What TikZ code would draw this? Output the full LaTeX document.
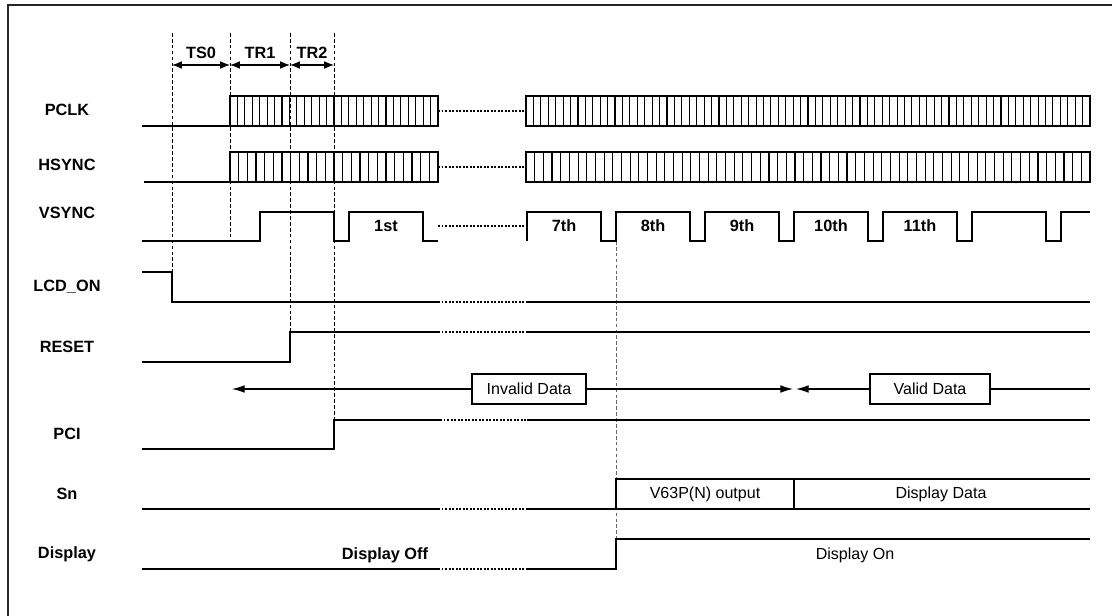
\documentclass[tikz,border=0pt]{standalone}
\usepackage{fontspec}
\setmainfont{Liberation Sans}
\usetikzlibrary{arrows.meta}

\tikzset{
  sig/.style={line width=1pt},
  brk/.style={line width=1pt, dash pattern=on 1.4pt off 1.1pt},
  guide/.style={line width=0.6pt, dash pattern=on 2.6pt off 1.6pt},
  stripe/.style={line width=0.8pt},
  lbl/.style={font=\fontsize{11.6}{13}\selectfont\bfseries},
  txt/.style={font=\fontsize{11.4}{13}\selectfont},
  databox/.style={draw, fill=white, line width=0.8pt, minimum height=0.75cm,
                  inner sep=0pt, font=\fontsize{11.4}{13}\selectfont},
  span/.style={line width=0.8pt, {Latex[length=7pt,width=5.5pt]}-{Latex[length=7pt,width=5.5pt]}},
  tip/.style={line width=0.8pt, -{Latex[length=9pt,width=5.5pt]}},
}

\begin{document}
\begin{tikzpicture}[x=0.025cm, y=-0.025cm]
  \useasboundingbox (0,0) rectangle (1112,616);
  \draw[line width=1.4pt, black!85] (8,616) -- (8,5) -- (1112,5);

  % signal names
  \node[lbl] (lpclk)  at (67,110) {PCLK};
  \node[lbl] (lhsync) at (67,165) {HSYNC};
  \node[lbl] (lvsync) at (67,213) {VSYNC};
  \node[lbl] (llcdon) at (67,287) {LCD\_ON};
  \node[lbl] (lreset) at (67,347) {RESET};
  \node[lbl] (lpci)   at (67,434) {PCI};
  \node[lbl] (lsn)    at (67,494) {Sn};
  \node[lbl] (ldisp)  at (67,554) {Display};

  % timing marks
  \coordinate (t0) at (172,65);
  \coordinate (t1) at (230,65);
  \coordinate (t2) at (290,65);
  \coordinate (t3) at (334,65);
  \draw[span] (t0) -- node[lbl, above=1pt] (ts0) {TS0} (t1);
  \draw[span] (t1) -- node[lbl, above=1pt] (tr1) {TR1} (t2);
  \draw[span] (t2) -- node[lbl, above=1pt] (tr2) {TR2} (t3);
  \draw[guide] (172,33) -- (172,272);
  \draw[guide] (230,33) -- (230,241);
  \draw[guide] (290,33) -- (290,332);
  \draw[guide] (334,33) -- (334,420);
  \draw[guide, black!60] (616,241) -- (616,539);

  % PCLK
  \draw[sig] (142,126) -- (230,126);
  \draw[sig] (230,96) rectangle (438,126);
  \foreach \i in {1,...,27} \draw[stripe] ({230+\i*7.4286},96) -- ++(0,30);
  \draw[brk] (438,111) -- (526,111);
  \draw[sig] (526,96) rectangle (1090,126);
  \foreach \i in {1,...,75} \draw[stripe] ({526+\i*7.4211},96) -- ++(0,30);

  % HSYNC
  \draw[sig] (144,182) -- (230,182);
  \draw[sig] (230,152) rectangle (438,182);
  \foreach \i in {1,...,23} \draw[stripe] ({230+\i*8.6667},152) -- ++(0,30);
  \draw[brk] (438,167) -- (526,167);
  \draw[sig] (526,152) rectangle (1090,182);
  \foreach \i in {1,...,64} \draw[stripe] ({526+\i*8.6769},152) -- ++(0,30);

  % VSYNC
  \draw[sig] (142,241) -- (260,241) -- (260,212) -- (334,212) -- (334,241)
             -- (349,241) -- (349,212) -- (423,212) -- (423,241) -- (438,241);
  \draw[brk] (438,226) -- (526,226);
  \draw[sig] (527,241) \foreach \k in {0,...,5}{
               -- ({527+89*\k},212) -- ({601+89*\k},212)
               -- ({601+89*\k},241) -- ({616+89*\k},241)}
             -- (1061,212) -- (1090,212);
  \node[lbl] (v1)  at (386,226) {1st};
  \node[lbl] (v7)  at (564,226) {7th};
  \node[lbl] (v8)  at (653,226) {8th};
  \node[lbl] (v9)  at (742,226) {9th};
  \node[lbl] (v10) at (831,226) {10th};
  \node[lbl] (v11) at (920,226) {11th};

  % LCD_ON
  \draw[sig] (142,272) -- (172,272) -- (172,302) -- (438,302);
  \draw[brk] (438,302) -- (527,302);
  \draw[sig] (527,302) -- (1090,302);

  % RESET
  \draw[sig] (142,362) -- (290,362) -- (290,332) -- (438,332);
  \draw[brk] (438,332) -- (527,332);
  \draw[sig] (527,332) -- (1090,332);

  % data valid window
  \node[databox, minimum width=2.85cm] (inval) at (529,389) {Invalid Data};
  \node[databox, minimum width=3.0cm]  (valid) at (930,389) {Valid Data};
  \coordinate (ileft)  at (232,389);
  \coordinate (imid)   at (793,389);
  \coordinate (vmid)   at (796,389);
  \coordinate (vright) at (1090,389);
  \draw[tip] (inval.west) -- (ileft);
  \draw[tip] (inval.east) -- (imid);
  \draw[tip] (valid.west) -- (vmid);
  \draw[line width=0.8pt] (valid.east) -- (vright);

  % PCI
  \draw[sig] (142,449) -- (334,449) -- (334,420) -- (440,420);
  \draw[brk] (440,420) -- (527,420);
  \draw[sig] (527,420) -- (1090,420);

  % Sn
  \draw[sig] (142,509) -- (438,509);
  \draw[brk] (438,509) -- (527,509);
  \draw[sig] (527,509) -- (1090,509);
  \draw[sig] (616,509) -- (616,479) -- (1090,479);
  \draw[sig] (794,479) -- (794,509);
  \node[txt] (vout)  at (705,494) {V63P(N) output};
  \node[txt] (ddata) at (941,494) {Display Data};

  % Display
  \draw[sig] (142,569) -- (438,569);
  \draw[brk] (438,569) -- (527,569);
  \draw[sig] (527,569) -- (616,569) -- (616,539) -- (1090,539);
  \node[lbl] (doff) at (385,555) {Display Off};
  \node[txt] (don)  at (855,555) {Display On};
\end{tikzpicture}
\end{document}
